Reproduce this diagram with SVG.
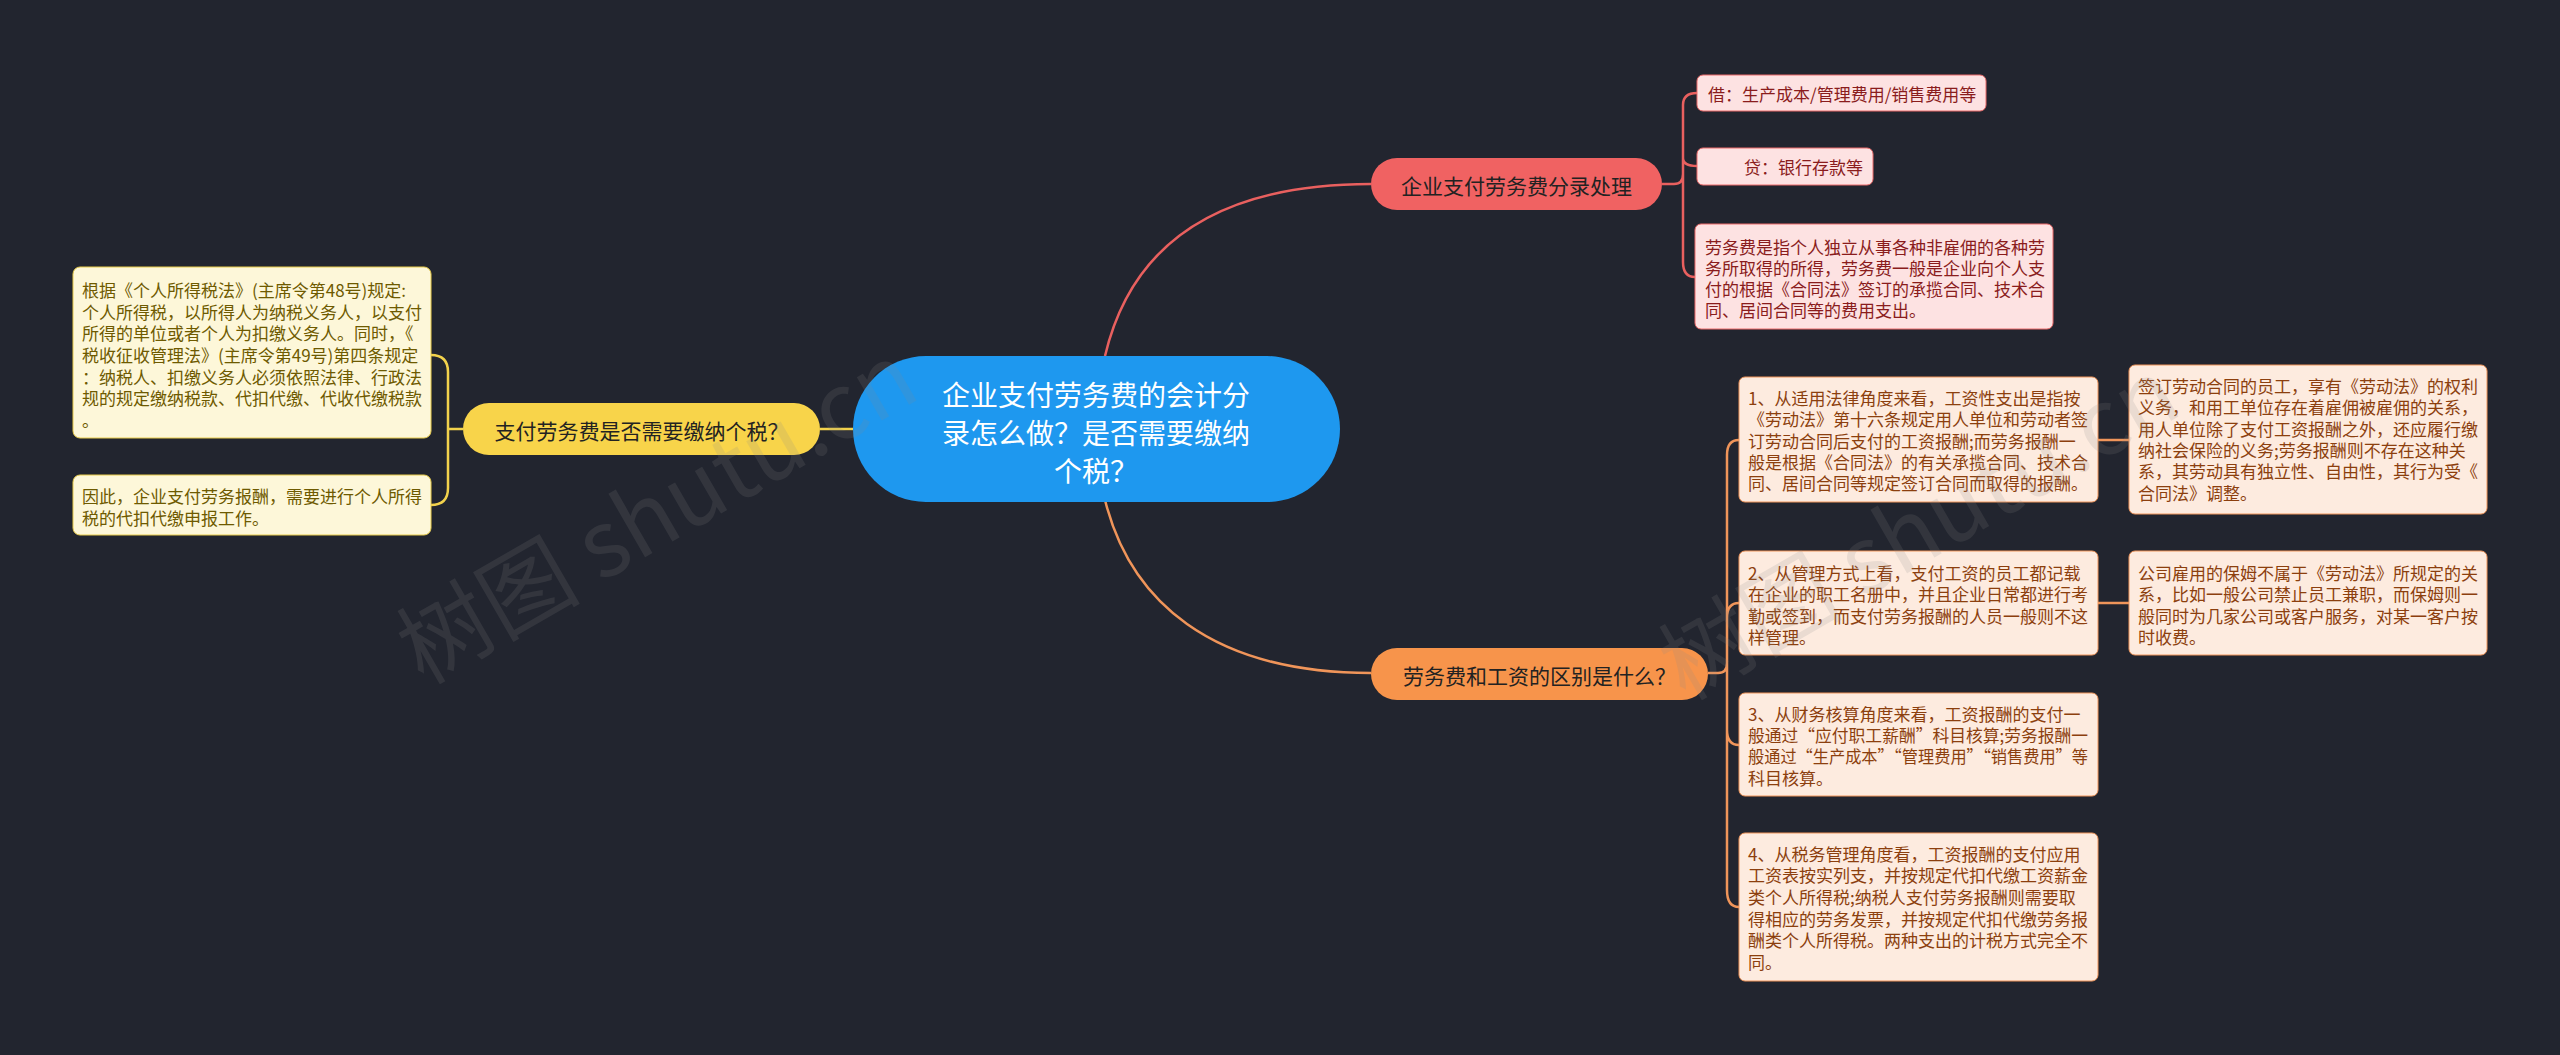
<svg xmlns="http://www.w3.org/2000/svg" width="2560" height="1055" viewBox="0 0 2560 1055">
<style>
text{font-family:"Noto Sans CJK SC","Noto Sans",sans-serif;dominant-baseline:central}
.main{font-size:21px;fill:#222222;text-anchor:middle}
.root{font-size:28px;fill:#ffffff;text-anchor:middle}
.sm{font-size:17px}
.ry{fill:#6e5a00}
.rr{fill:#8a1c1c}
.ro{fill:#8c3f0e}
.by{fill:#fdf7d9;stroke:#e8cc4a;stroke-width:1}
.br{fill:#fde2e2;stroke:#ec6b6b;stroke-width:1}
.bo{fill:#fdebdf;stroke:#f0955a;stroke-width:1}
.cy{fill:none;stroke:#f2d24c;stroke-width:2.5}
.cr{fill:none;stroke:#e9605f;stroke-width:2.5}
.co{fill:none;stroke:#f0955a;stroke-width:2.5}
.wm{font-size:92px;fill:#8a8a8a;opacity:0.16;font-family:"Noto Sans CJK SC","Noto Sans",sans-serif}
</style>
<rect x="0" y="0" width="2560" height="1055" fill="#22252f"/>

<g id="connectors">
  <path class="cy" d="M853 429 H820"/>
  <path class="cy" d="M463 429 H448 M448 429 V372 Q448 355 431 355 M448 429 V488 Q448 505 431 505"/>
  <path class="cr" d="M1105 356 C1130 250 1210 184 1371 184"/>
  <path class="cr" d="M1662 184 H1674 Q1683 184 1683 174 V105 Q1683 93 1697 93 M1683 184 V158 Q1683 166 1697 166 M1683 184 V262 Q1683 277 1695 277"/>
  <path class="co" d="M1105 500 C1130 600 1210 673 1371 673"/>
  <path class="co" d="M1708 673 H1718 Q1727 673 1727 663 V455 Q1727 440 1739 440 M1727 673 V618 Q1727 603 1739 603 M1727 673 V730 Q1727 745 1739 745 M1727 673 V890 Q1727 907 1739 907"/>
  <path class="co" d="M2098 440 H2129 M2098 603 H2129"/>
</g>

<g id="root">
  <rect x="853" y="356" width="487" height="146" rx="73" fill="#1e98ef"/>
  <text class="root" x="1096" y="394">企业支付劳务费的会计分</text>
  <text class="root" x="1096" y="432">录怎么做？是否需要缴纳</text>
  <text class="root" x="1096" y="470">个税？</text>
</g>

<g id="node-tax">
  <rect x="463" y="403" width="357" height="52" rx="26" fill="#f8d44a"/>
  <text class="main" x="641.5" y="430">支付劳务费是否需要缴纳个税？</text>
</g>
<g id="tax-1">
  <rect class="by" x="73" y="267" width="358" height="171" rx="7"/>
  <text class="sm ry" x="82" y="289">根据《个人所得税法》(主席令第48号)规定:</text>
  <text class="sm ry" x="82" y="311">个人所得税，以所得人为纳税义务人，以支付</text>
  <text class="sm ry" x="82" y="332">所得的单位或者个人为扣缴义务人。同时，《</text>
  <text class="sm ry" x="82" y="354">税收征收管理法》(主席令第49号)第四条规定</text>
  <text class="sm ry" x="82" y="376">：纳税人、扣缴义务人必须依照法律、行政法</text>
  <text class="sm ry" x="82" y="397">规的规定缴纳税款、代扣代缴、代收代缴税款</text>
  <text class="sm ry" x="82" y="419">。</text>
</g>
<g id="tax-2">
  <rect class="by" x="73" y="475" width="358" height="60" rx="7"/>
  <text class="sm ry" x="82" y="495">因此，企业支付劳务报酬，需要进行个人所得</text>
  <text class="sm ry" x="82" y="517">税的代扣代缴申报工作。</text>
</g>

<g id="node-entry">
  <rect x="1371" y="158" width="291" height="52" rx="26" fill="#f06262"/>
  <text class="main" x="1516.5" y="185">企业支付劳务费分录处理</text>
</g>
<g id="entry-1">
  <rect class="br" x="1697" y="75" width="289" height="36" rx="6"/>
  <text class="sm rr" x="1708" y="93">借：生产成本/管理费用/销售费用等</text>
</g>
<g id="entry-2">
  <rect class="br" x="1697" y="148" width="176" height="37" rx="6"/>
  <text class="sm rr" x="1744" y="166">贷：银行存款等</text>
</g>
<g id="entry-3">
  <rect class="br" x="1695" y="224" width="358" height="105" rx="6"/>
  <text class="sm rr" x="1705" y="246">劳务费是指个人独立从事各种非雇佣的各种劳</text>
  <text class="sm rr" x="1705" y="267">务所取得的所得，劳务费一般是企业向个人支</text>
  <text class="sm rr" x="1705" y="288">付的根据《合同法》签订的承揽合同、技术合</text>
  <text class="sm rr" x="1705" y="309">同、居间合同等的费用支出。</text>
</g>

<g id="node-diff">
  <rect x="1371" y="648" width="337" height="52" rx="26" fill="#f7944b"/>
  <text class="main" x="1539.5" y="675">劳务费和工资的区别是什么？</text>
</g>
<g id="diff-1">
  <rect class="bo" x="1739" y="377" width="359" height="125" rx="6"/>
  <text class="sm ro" x="1748" y="397">1、从适用法律角度来看，工资性支出是指按</text>
  <text class="sm ro" x="1748" y="418">《劳动法》第十六条规定用人单位和劳动者签</text>
  <text class="sm ro" x="1748" y="440">订劳动合同后支付的工资报酬;而劳务报酬一</text>
  <text class="sm ro" x="1748" y="461">般是根据《合同法》的有关承揽合同、技术合</text>
  <text class="sm ro" x="1748" y="482">同、居间合同等规定签订合同而取得的报酬。</text>
</g>
<g id="diff-2">
  <rect class="bo" x="1739" y="551" width="359" height="104" rx="6"/>
  <text class="sm ro" x="1748" y="572">2、从管理方式上看，支付工资的员工都记载</text>
  <text class="sm ro" x="1748" y="593">在企业的职工名册中，并且企业日常都进行考</text>
  <text class="sm ro" x="1748" y="615">勤或签到，而支付劳务报酬的人员一般则不这</text>
  <text class="sm ro" x="1748" y="636">样管理。</text>
</g>
<g id="diff-3">
  <rect class="bo" x="1739" y="693" width="359" height="103" rx="6"/>
  <text class="sm ro" x="1748" y="713">3、从财务核算角度来看，工资报酬的支付一</text>
  <text class="sm ro" x="1748" y="734" textLength="340" lengthAdjust="spacingAndGlyphs">般通过“应付职工薪酬”科目核算;劳务报酬一</text>
  <text class="sm ro" x="1748" y="755" textLength="340" lengthAdjust="spacingAndGlyphs">般通过“生产成本”“管理费用”“销售费用”等</text>
  <text class="sm ro" x="1748" y="777">科目核算。</text>
</g>
<g id="diff-4">
  <rect class="bo" x="1739" y="833" width="359" height="148" rx="6"/>
  <text class="sm ro" x="1748" y="853">4、从税务管理角度看，工资报酬的支付应用</text>
  <text class="sm ro" x="1748" y="874">工资表按实列支，并按规定代扣代缴工资薪金</text>
  <text class="sm ro" x="1748" y="896">类个人所得税;纳税人支付劳务报酬则需要取</text>
  <text class="sm ro" x="1748" y="918">得相应的劳务发票，并按规定代扣代缴劳务报</text>
  <text class="sm ro" x="1748" y="939">酬类个人所得税。两种支出的计税方式完全不</text>
  <text class="sm ro" x="1748" y="961">同。</text>
</g>
<g id="diff-1-1">
  <rect class="bo" x="2129" y="365" width="358" height="149" rx="6"/>
  <text class="sm ro" x="2138" y="385">签订劳动合同的员工，享有《劳动法》的权利</text>
  <text class="sm ro" x="2138" y="406">义务，和用工单位存在着雇佣被雇佣的关系，</text>
  <text class="sm ro" x="2138" y="428">用人单位除了支付工资报酬之外，还应履行缴</text>
  <text class="sm ro" x="2138" y="449">纳社会保险的义务;劳务报酬则不存在这种关</text>
  <text class="sm ro" x="2138" y="470">系，其劳动具有独立性、自由性，其行为受《</text>
  <text class="sm ro" x="2138" y="492">合同法》调整。</text>
</g>
<g id="diff-2-1">
  <rect class="bo" x="2129" y="551" width="358" height="104" rx="6"/>
  <text class="sm ro" x="2138" y="572">公司雇用的保姆不属于《劳动法》所规定的关</text>
  <text class="sm ro" x="2138" y="593">系，比如一般公司禁止员工兼职，而保姆则一</text>
  <text class="sm ro" x="2138" y="615">般同时为几家公司或客户服务，对某一客户按</text>
  <text class="sm ro" x="2138" y="636">时收费。</text>
</g>

<g id="watermark">
  <text class="wm" x="653" y="506" text-anchor="middle" transform="rotate(-30 653 506)">树图 shutu.cn</text>
  <text class="wm" x="1915" y="522" text-anchor="middle" transform="rotate(-30 1915 522)">树图 shutu.cn</text>
</g>
</svg>
